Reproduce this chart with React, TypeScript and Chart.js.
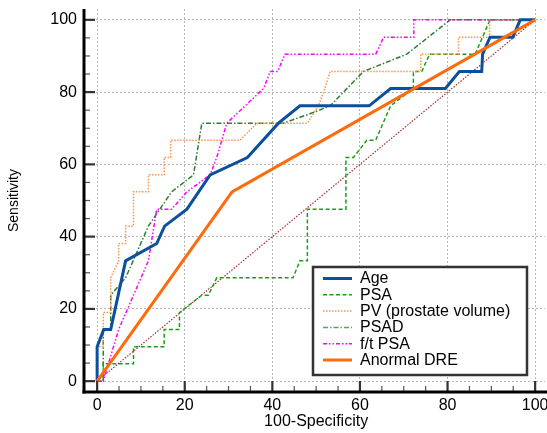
import React, { useEffect, useRef } from "react";
import { Chart, registerables } from "chart.js";

Chart.register(...registerables);

// ---- Data (100-Specificity, Sensitivity) ----
const MAJOR_TICKS = [0, 20, 40, 60, 80, 100];

const ageX = [0, 0, 1.5, 3.1, 6.5, 13.6, 15.4, 20.5, 25.8, 34.3, 41.4, 46.3, 62.1, 67, 79.5, 82.7, 87.8, 88, 89.7, 94.9, 96.6, 100];
const ageY = [0, 9.5, 14.3, 14.3, 33.3, 38.1, 42.9, 47.6, 57.1, 61.9, 71.4, 76.2, 76.2, 81, 81, 85.7, 85.7, 90.5, 95.2, 95.2, 100, 100];

const psaX = [0, 1.4, 1.4, 8.3, 8.3, 15.3, 15.3, 18.8, 18.8, 23.9, 25.4, 27.3, 44.7, 46.3, 48, 48, 56.8, 56.8, 58.5, 61.6, 63.6, 67, 72.2, 72.2, 74.1, 75.9, 86.3, 89.7, 100];
const psaY = [0, 0, 4.8, 4.8, 9.5, 9.5, 14.3, 14.3, 19, 23.8, 23.8, 28.6, 28.6, 33.3, 33.3, 47.6, 47.6, 61.9, 61.9, 66.7, 66.7, 76.2, 81, 85.7, 85.7, 90.5, 90.5, 100, 100];

const pvX = [0, 0, 1.4, 1.4, 3.1, 3.1, 4.9, 4.9, 6.5, 6.5, 8.3, 8.3, 11.7, 11.7, 15.3, 15.3, 16.8, 16.8, 32.6, 36.5, 48, 50.5, 52, 53.2, 73.9, 73.9, 82.5, 82.5, 89.6, 89.6, 100];
const pvY = [0, 9.5, 9.5, 19, 19, 28.6, 33.3, 38.1, 38.1, 42.9, 42.9, 52.4, 52.4, 57.1, 57.1, 61.9, 61.9, 66.7, 66.7, 71.4, 71.4, 76.2, 81, 85.7, 85.7, 90.5, 90.5, 95.2, 95.2, 100, 100];

const psadX = [0, 1.4, 1.4, 3.1, 3.1, 6.5, 11.7, 17, 22, 23.9, 42.5, 48.6, 53.2, 60.8, 70.7, 80.6, 100];
const psadY = [0, 0, 14.3, 14.3, 23.8, 28.6, 42.9, 52.4, 57.1, 71.4, 71.4, 74, 76.2, 85.7, 90.5, 100, 100];

const ftX = [0, 1.4, 4.9, 8.3, 11.7, 13.6, 17, 20.5, 25.8, 27.3, 29.6, 38, 39.5, 41.2, 42.9, 63.6, 65.4, 72.3, 72.3, 100];
const ftY = [0, 0, 14.3, 23.8, 33.3, 47.6, 47.6, 52.4, 57.1, 61.9, 71.4, 81, 85.7, 85.7, 90.5, 90.5, 95.2, 95.2, 100, 100];

const dreX = [0, 30.8, 100];
const dreY = [0, 52.4, 100];

const refX = [0, 100];
const refY = [0, 100];

const SERIES_NAMES = ["Age", "PSA", "PV (prostate volume)", "PSAD", "f/t PSA", "Anormal DRE"];

const toPts = (xs: number[], ys: number[]) => xs.map((x, i) => ({ x, y: ys[i] }));

const FONT = "'Liberation Sans', Arial, Helvetica, sans-serif";

type Style = { color: string; width: number; dash: number[]; legendColor?: string };
const STYLES: Style[] = [
  { color: "#0b4f9e", width: 3, dash: [] },
  { color: "#1a9e1a", width: 1.5, dash: [4, 2.5] },
  { color: "#f7964a", width: 1.5, dash: [1.5, 1.5] },
  { color: "#2e7d32", width: 1.5, dash: [5, 2, 1.5, 2], legendColor: "#5e9e5e" },
  { color: "#ff00ff", width: 1.5, dash: [4, 2, 1.5, 2, 1.5, 2] },
  { color: "#ff6a0a", width: 3, dash: [] },
];

const axesPlugin = {
  id: "rocAxes",
  afterDatasetsDraw(chart: any) {
    const { ctx, chartArea, scales } = chart;
    const { left, top, bottom } = chartArea;
    const xs = scales.x;
    const ys = scales.y;
    const line = (x1: number, y1: number, x2: number, y2: number) => {
      ctx.beginPath();
      ctx.moveTo(x1, y1);
      ctx.lineTo(x2, y2);
      ctx.stroke();
    };
    ctx.save();
    ctx.setLineDash([]);
    for (let v = 0; v <= 100; v += 5) {
      const major = v % 20 === 0;
      const len = major ? 11 : 6;
      ctx.strokeStyle = major ? "#333" : "#555";
      ctx.lineWidth = major ? 2.2 : 1.2;
      const py = ys.getPixelForValue(v);
      line(left, py, left + len, py);
      const px = xs.getPixelForValue(v);
      line(px, bottom, px, bottom - len);
    }
    ctx.strokeStyle = "#000";
    ctx.lineWidth = 3;
    line(left, top, left, bottom + 1.5);
    line(left - 1.5, bottom, chart.width, bottom);

    // axis titles
    ctx.fillStyle = "#000";
    ctx.font = `16px ${FONT}`;
    ctx.textAlign = "center";
    ctx.textBaseline = "middle";
    ctx.fillText("100-Specificity", xs.getPixelForValue(50), 422);
    ctx.save();
    ctx.translate(14, ys.getPixelForValue(50));
    ctx.rotate(-Math.PI / 2);
    ctx.font = `14px ${FONT}`;
    ctx.fillText("Sensitivity", 0, 0);
    ctx.restore();
    ctx.restore();
  },
};

const legendPlugin = {
  id: "rocLegend",
  afterDraw(chart: any) {
    const { ctx } = chart;
    const bx = 313, by = 267, bw = 214, bh = 108;
    ctx.save();
    ctx.setLineDash([]);
    ctx.fillStyle = "#fff";
    ctx.fillRect(bx, by, bw, bh);
    ctx.strokeStyle = "#333";
    ctx.lineWidth = 2.5;
    ctx.strokeRect(bx, by, bw, bh);
    ctx.font = `16px ${FONT}`;
    ctx.textAlign = "left";
    ctx.textBaseline = "middle";
    SERIES_NAMES.forEach((name, i) => {
      const st = STYLES[i];
      const yy = 278.5 + i * 16.3;
      ctx.strokeStyle = st.legendColor || st.color;
      ctx.lineWidth = st.width;
      ctx.setLineDash(st.dash);
      ctx.beginPath();
      ctx.moveTo(323, yy);
      ctx.lineTo(352, yy);
      ctx.stroke();
      ctx.setLineDash([]);
      ctx.fillStyle = "#000";
      ctx.fillText(name, 360, yy + 0.5);
    });
    ctx.restore();
  },
};

export default function App() {
  const ref = useRef<HTMLCanvasElement | null>(null);

  useEffect(() => {
    document.body.style.margin = "0";
    document.body.style.overflow = "hidden";
    const canvas = ref.current;
    if (!canvas) return;

    const seriesPts = [
      toPts(ageX, ageY),
      toPts(psaX, psaY),
      toPts(pvX, pvY),
      toPts(psadX, psadY),
      toPts(ftX, ftY),
      toPts(dreX, dreY),
    ];
    const orders = [1, 4, 3, 5, 2, 0];

    const datasets: any[] = seriesPts.map((pts, i) => ({
      label: SERIES_NAMES[i],
      data: pts,
      borderColor: STYLES[i].color,
      borderWidth: STYLES[i].width,
      borderDash: STYLES[i].dash,
      pointRadius: 0,
      pointHoverRadius: 0,
      fill: false,
      tension: 0,
      showLine: true,
      order: orders[i],
      borderCapStyle: "butt",
      borderJoinStyle: "miter",
    }));
    datasets.push({
      label: "ref",
      data: toPts(refX, refY),
      borderColor: "#a63030",
      borderWidth: 1.2,
      borderDash: [1.5, 1.5],
      pointRadius: 0,
      fill: false,
      showLine: true,
      order: 10,
    });

    const tickFont = { family: FONT, size: 16 };

    const chart = new Chart(canvas, {
      type: "scatter",
      data: { datasets },
      plugins: [axesPlugin, legendPlugin],
      options: {
        responsive: false,
        animation: false,
        events: [],
        layout: { padding: { left: 0, right: 2, top: 9, bottom: 0 } },
        plugins: {
          legend: { display: false },
          tooltip: { enabled: false },
          title: { display: false },
        },
        scales: {
          x: {
            type: "linear",
            min: -3,
            max: 102.25,
            afterBuildTicks: (s: any) => {
              s.ticks = MAJOR_TICKS.map((v) => ({ value: v }));
            },
            afterFit: (s: any) => {
              s.height = 41;
              s.paddingLeft = 0;
              s.paddingRight = 0;
            },
            grid: { color: "#b5b5b5", lineWidth: 1, drawTicks: false },
            border: { display: false, dash: [2, 2] },
            ticks: {
              padding: 4,
              color: "#000",
              font: tickFont,
              maxRotation: 0,
              autoSkip: false,
              callback: (v: any) => String(v),
            },
          },
          y: {
            type: "linear",
            min: -3,
            max: 103,
            afterBuildTicks: (s: any) => {
              s.ticks = MAJOR_TICKS.map((v) => ({ value: v }));
            },
            afterFit: (s: any) => {
              s.width = 84;
              s.paddingTop = 0;
              s.paddingBottom = 0;
            },
            grid: { color: "#b5b5b5", lineWidth: 1, drawTicks: false },
            border: { display: false, dash: [2, 2] },
            ticks: {
              padding: 7,
              color: "#000",
              font: tickFont,
              autoSkip: false,
              callback: (v: any) => String(v),
            },
          },
        },
      } as any,
    });

    return () => chart.destroy();
  }, []);

  return (
    <div style={{ position: "relative", width: 547, height: 433, background: "#fff" }}>
      <canvas ref={ref} width={547} height={433} style={{ display: "block" }} />
    </div>
  );
}
